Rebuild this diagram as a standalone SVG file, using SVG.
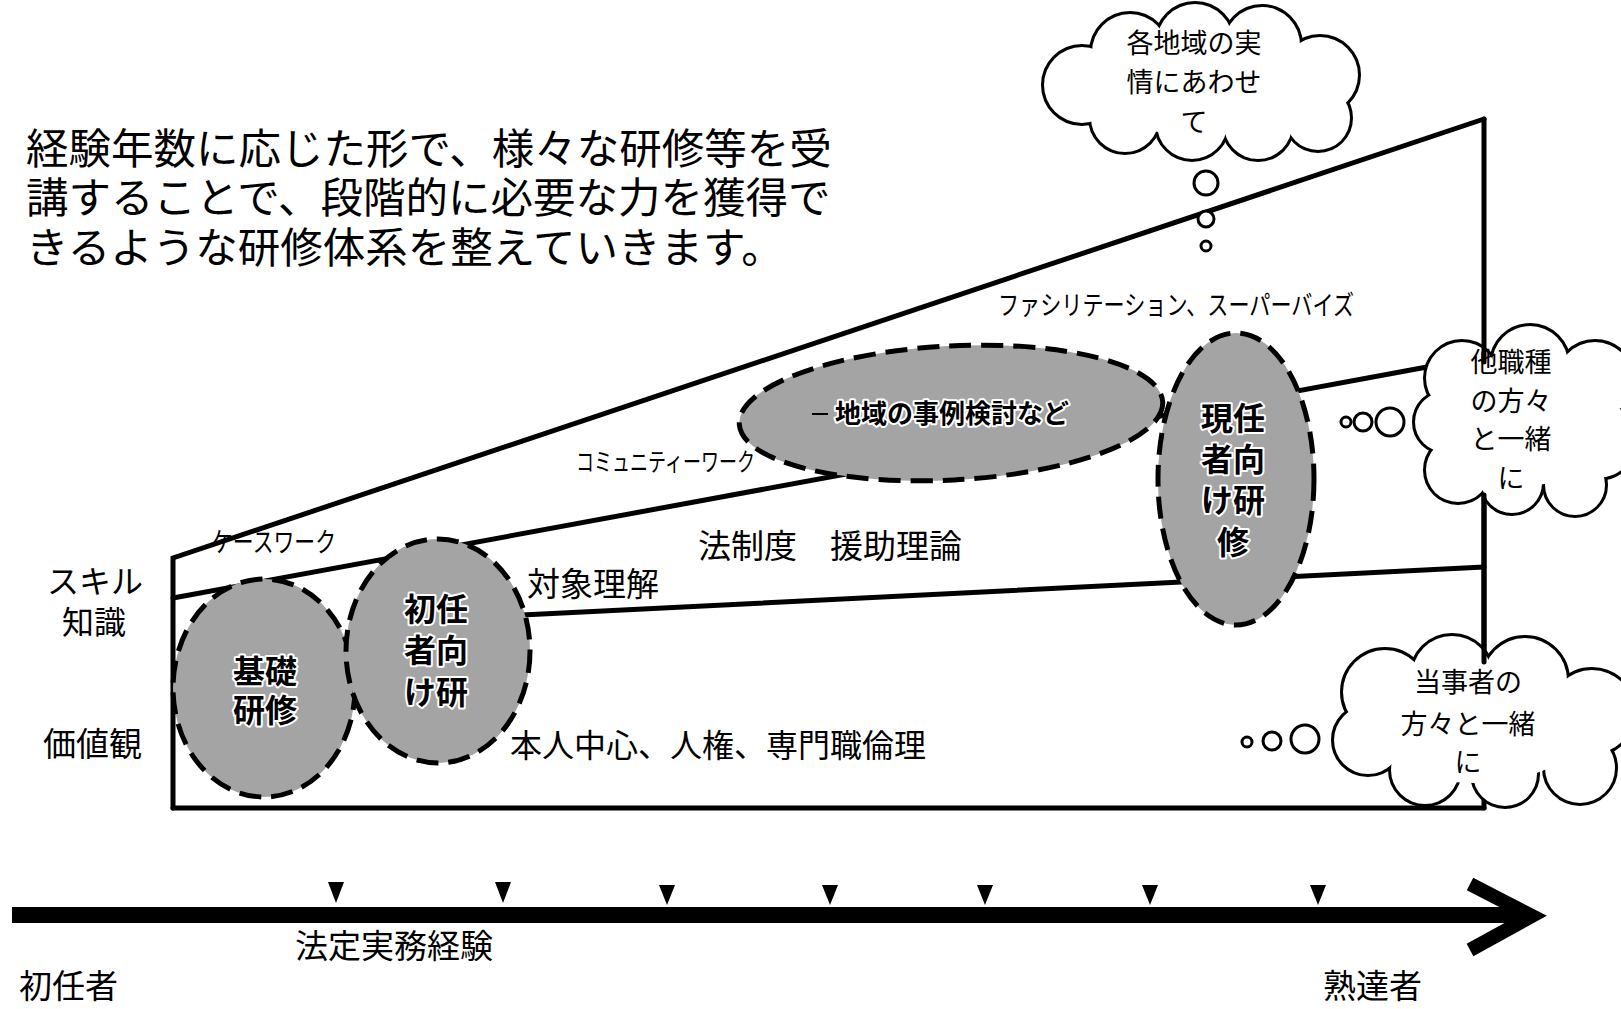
<svg xmlns="http://www.w3.org/2000/svg" width="1621" height="1009" viewBox="0 0 1621 1009">
<style>
text{font-family:"Noto Sans CJK JP","Noto Sans",sans-serif;fill:#000}
.ln{stroke:#000;stroke-width:5;fill:none;stroke-linecap:round}
.blob{fill:#a4a4a4;stroke:#000;stroke-width:5;stroke-dasharray:22 10}
.halo{font-weight:bold;stroke:#fff;stroke-width:4;paint-order:stroke;stroke-linejoin:round}
.cs{fill:none;stroke:#000;stroke-width:6}
.cf{fill:#fff;stroke:none}
.bub{fill:#fff;stroke:#000;stroke-width:3}
.tri{fill:#000}
</style>
<rect width="1621" height="1009" fill="#fff"/>

<g id="title">
<text x="26" y="164" font-size="42.5">経験年数に応じた形で、様々な研修等を受</text>
<text x="26" y="213" font-size="42.5">講することで、段階的に必要な力を獲得で</text>
<text x="26" y="263" font-size="42.5">きるような研修体系を整えていきます。</text>
</g>

<g id="connectors">
<path class="ln" d="M173,808 L173,558 L1484,119"/>
<path class="ln" d="M173,808 L1484,808"/>
<path class="ln" d="M173,598 L1427,367"/>
<path class="ln" d="M522,615 L1484,567"/>
<path class="ln" d="M1484,495 L1484,808"/>
</g>

<g id="axis-labels">
<text x="47" y="593" font-size="32">スキル</text>
<text x="62" y="634" font-size="32">知識</text>
<text x="43" y="756" font-size="33">価値観</text>
</g>

<g id="band-labels">
<text x="212" y="552" font-size="27" textLength="124" lengthAdjust="spacingAndGlyphs">ケースワーク</text>
<text x="576" y="471" font-size="25" textLength="179" lengthAdjust="spacingAndGlyphs">コミュニティーワーク</text>
<text x="998" y="315" font-size="27" textLength="356" lengthAdjust="spacingAndGlyphs">ファシリテーション、スーパーバイズ</text>
<text x="698" y="558" font-size="33">法制度　援助理論</text>
<text x="527" y="596" font-size="33">対象理解</text>
<text x="510" y="757" font-size="32">本人中心、人権、専門職倫理</text>
</g>

<g id="node-kiso">
<ellipse class="blob" cx="264" cy="688" rx="91" ry="109"/>
<text class="halo" x="265" y="683" font-size="32" text-anchor="middle">基礎</text>
<text class="halo" x="265" y="722" font-size="32" text-anchor="middle">研修</text>
</g>

<g id="node-shonin">
<ellipse class="blob" cx="438" cy="651" rx="92" ry="112"/>
<text class="halo" x="436" y="621" font-size="32" text-anchor="middle">初任</text>
<text class="halo" x="436" y="662" font-size="32" text-anchor="middle">者向</text>
<text class="halo" x="436" y="704" font-size="32" text-anchor="middle">け研</text>
</g>

<g id="node-chiiki">
<ellipse class="blob" cx="951" cy="413" rx="212" ry="67" transform="rotate(-3 951 413)"/>
<path d="M812,414 L828,414" stroke="#000" stroke-width="2"/>
<text class="halo" x="952" y="423" font-size="26" text-anchor="middle">地域の事例検討など</text>
</g>

<g id="node-genin">
<ellipse class="blob" cx="1236" cy="479" rx="78" ry="146"/>
<text class="halo" x="1233" y="430" font-size="32" text-anchor="middle">現任</text>
<text class="halo" x="1233" y="471" font-size="32" text-anchor="middle">者向</text>
<text class="halo" x="1233" y="512" font-size="32" text-anchor="middle">け研</text>
<text class="halo" x="1233" y="554" font-size="32" text-anchor="middle">修</text>
</g>

<g id="cloud-top">
<g class="cs">
<circle cx="1082" cy="85" r="38"/><circle cx="1130" cy="52" r="38"/><circle cx="1195" cy="42" r="38"/><circle cx="1262" cy="45" r="38"/><circle cx="1320" cy="75" r="38"/><circle cx="1318" cy="118" r="32"/><circle cx="1258" cy="125" r="34"/><circle cx="1192" cy="124" r="35"/><circle cx="1125" cy="118" r="34"/>
</g>
<g class="cf">
<circle cx="1082" cy="85" r="38"/><circle cx="1130" cy="52" r="38"/><circle cx="1195" cy="42" r="38"/><circle cx="1262" cy="45" r="38"/><circle cx="1320" cy="75" r="38"/><circle cx="1318" cy="118" r="32"/><circle cx="1258" cy="125" r="34"/><circle cx="1192" cy="124" r="35"/><circle cx="1125" cy="118" r="34"/>
<ellipse cx="1200" cy="85" rx="120" ry="50"/>
</g>
<circle class="bub" cx="1206" cy="183" r="12"/>
<circle class="bub" cx="1206" cy="219" r="8"/>
<circle class="bub" cx="1206" cy="246" r="5"/>
<text x="1194" y="53" font-size="27" text-anchor="middle">各地域の実</text>
<text x="1194" y="92" font-size="27" text-anchor="middle">情にあわせ</text>
<text x="1194" y="132" font-size="27" text-anchor="middle">て</text>
</g>

<g id="cloud-mid">
<g class="cs">
<circle cx="1462" cy="378" r="36"/><circle cx="1530" cy="364" r="38"/><circle cx="1595" cy="380" r="38"/><circle cx="1598" cy="440" r="38"/><circle cx="1575" cy="485" r="30"/><circle cx="1512" cy="483" r="30"/><circle cx="1458" cy="470" r="32"/><circle cx="1445" cy="422" r="30"/>
</g>
<g class="cf">
<circle cx="1462" cy="378" r="36"/><circle cx="1530" cy="364" r="38"/><circle cx="1595" cy="380" r="38"/><circle cx="1598" cy="440" r="38"/><circle cx="1575" cy="485" r="30"/><circle cx="1512" cy="483" r="30"/><circle cx="1458" cy="470" r="32"/><circle cx="1445" cy="422" r="30"/>
<ellipse cx="1520" cy="425" rx="80" ry="62"/>
</g>
<circle class="bub" cx="1390" cy="422" r="14"/>
<circle class="bub" cx="1363" cy="422" r="9"/>
<circle class="bub" cx="1346" cy="422" r="5"/>
<text x="1511" y="372" font-size="27" text-anchor="middle">他職種</text>
<text x="1511" y="411" font-size="27" text-anchor="middle">の方々</text>
<text x="1511" y="449" font-size="27" text-anchor="middle">と一緒</text>
<text x="1511" y="488" font-size="27" text-anchor="middle">に</text>
</g>

<g id="cloud-bottom">
<g class="cs">
<circle cx="1385" cy="692" r="42"/><circle cx="1452" cy="676" r="40"/><circle cx="1525" cy="680" r="42"/><circle cx="1592" cy="712" r="42"/><circle cx="1580" cy="768" r="35"/><circle cx="1505" cy="774" r="32"/><circle cx="1425" cy="770" r="34"/><circle cx="1368" cy="740" r="34"/>
</g>
<g class="cf">
<circle cx="1385" cy="692" r="42"/><circle cx="1452" cy="676" r="40"/><circle cx="1525" cy="680" r="42"/><circle cx="1592" cy="712" r="42"/><circle cx="1580" cy="768" r="35"/><circle cx="1505" cy="774" r="32"/><circle cx="1425" cy="770" r="34"/><circle cx="1368" cy="740" r="34"/>
<ellipse cx="1475" cy="725" rx="110" ry="58"/>
</g>
<circle class="bub" cx="1305" cy="739" r="14"/>
<circle class="bub" cx="1272" cy="741" r="9"/>
<circle class="bub" cx="1247" cy="742" r="5"/>
<text x="1468" y="692" font-size="27" text-anchor="middle">当事者の</text>
<text x="1468" y="734" font-size="27" text-anchor="middle">方々と一緒</text>
<text x="1468" y="772" font-size="27" text-anchor="middle">に</text>
</g>

<g id="right-edge">
<path class="ln" d="M1484,119 L1484,362"/>
<path class="ln" d="M1484,495 L1484,662"/>
</g>

<g id="timeline">
<path d="M12,915 L1528,915" stroke="#000" stroke-width="16" fill="none"/>
<path d="M1470,884 L1532,916 L1470,950" stroke="#000" stroke-width="14" fill="none" stroke-linejoin="miter"/>
<path class="tri" d="M328,882 L344,882 L336,903 Z"/>
<path class="tri" d="M495,882 L511,882 L503,903 Z"/>
<path class="tri" d="M659,885 L675,885 L667,905 Z"/>
<path class="tri" d="M822,885 L838,885 L830,905 Z"/>
<path class="tri" d="M977,885 L993,885 L985,905 Z"/>
<path class="tri" d="M1142,885 L1158,885 L1150,905 Z"/>
<path class="tri" d="M1310,885 L1326,885 L1318,905 Z"/>
<text x="295" y="958" font-size="33">法定実務経験</text>
<text x="19" y="998" font-size="33">初任者</text>
<text x="1323" y="998" font-size="33">熟達者</text>
</g>
</svg>
